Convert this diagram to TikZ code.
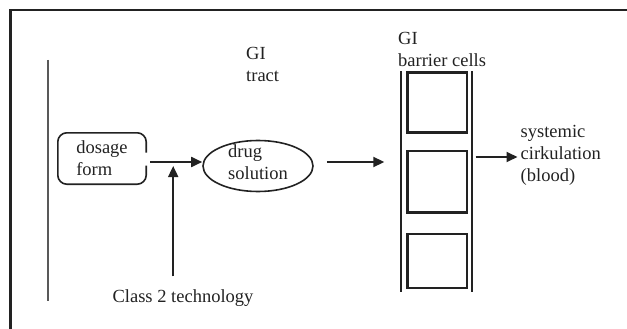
\documentclass[tikz,border=0pt]{standalone}
\usepackage{fontspec}
\setmainfont{Liberation Serif}
\usetikzlibrary{arrows.meta,shapes.geometric,calc}
\definecolor{ink}{HTML}{222222}
\tikzset{
  lbl/.style={inner sep=0pt, align=left, text=ink,
    font=\fontsize{18.5}{22}\selectfont},
  wire/.style={draw=ink, line width=1.6pt},
  arr/.style={wire, line width=1.8pt, -{Triangle[length=11pt,width=10pt]}},
  frame/.style={draw=ink, line width=2.4pt},
  cellbox/.style={draw=ink, line width=2.2pt},
  wall/.style={draw=ink, line width=1.7pt}
}
\begin{document}
\begin{tikzpicture}[x=1pt,y=-1pt]
  \useasboundingbox (0,0) rectangle (627,329);
  % outer frame (top and left only)
  \draw[frame] (627,10) -- (10.5,10) -- (10.5,329);
  % GI tract boundary
  \draw[wall, draw=ink!75, line width=2pt] (48,60) -- (48,301);

  % dosage form, outline open where the arrow leaves it
  \node[lbl, minimum width=88pt, minimum height=51pt] (dosage) at (102,158.5) {dosage\\form};
  \draw[wire, rounded corners=9pt]
    ($(dosage.east)+(0,-6)$) |- (dosage.north west) |- (dosage.south east) -- ($(dosage.east)+(0,7)$);

  % drug solution
  \node[ellipse, wire, minimum width=110pt, minimum height=51pt, inner sep=0pt] (sol) at (258,166) {};
  \node[lbl] (soltext) at (258,162) {drug\\solution};

  % labels
  \node[lbl, anchor=west] (tract) at (246,64) {GI\\tract};
  \node[lbl, anchor=west] (barrier) at (398,49.5) {GI\\barrier cells};
  \node[lbl, anchor=west] (sys) at (520.5,155) {systemic\\cirkulation\\(blood)};
  \node[lbl] (cls) at (183,298) {Class 2 technology};

  % barrier cell column
  \node[minimum width=70pt, minimum height=220pt, inner sep=0pt] (col) at (436.5,181.5) {};
  \draw[wall] (col.north west) -- (col.south west);
  \draw[wall] (col.north east) -- (col.south east);
  \node[cellbox, minimum width=59.5pt, minimum height=60pt, inner sep=0pt] (c1) at (437.3,102.5) {};
  \node[cellbox, minimum width=59.5pt, minimum height=61.5pt, inner sep=0pt] (c2) at (437.3,181.8) {};
  \node[cellbox, minimum width=59.5pt, minimum height=54pt, inner sep=0pt] (c3) at (437.3,261) {};

  % connectors
  \coordinate (j) at ($(dosage.east)+(27,3.5)$);
  \draw[arr] ($(dosage.east)+(4,3.5)$) -- (sol.west |- j);
  \draw[arr, shorten >=4pt] ($(cls.north -| j)+(0,-13)$) -- (j);
  \draw[arr] ($(sol.east)+(13,-4)$) -- ($(col.west)+(-17,-19.5)$);
  \draw[arr] ($(col.east |- sys.west)+(4,2)$) -- ($(sys.west)+(-3,2)$);
\end{tikzpicture}
\end{document}
